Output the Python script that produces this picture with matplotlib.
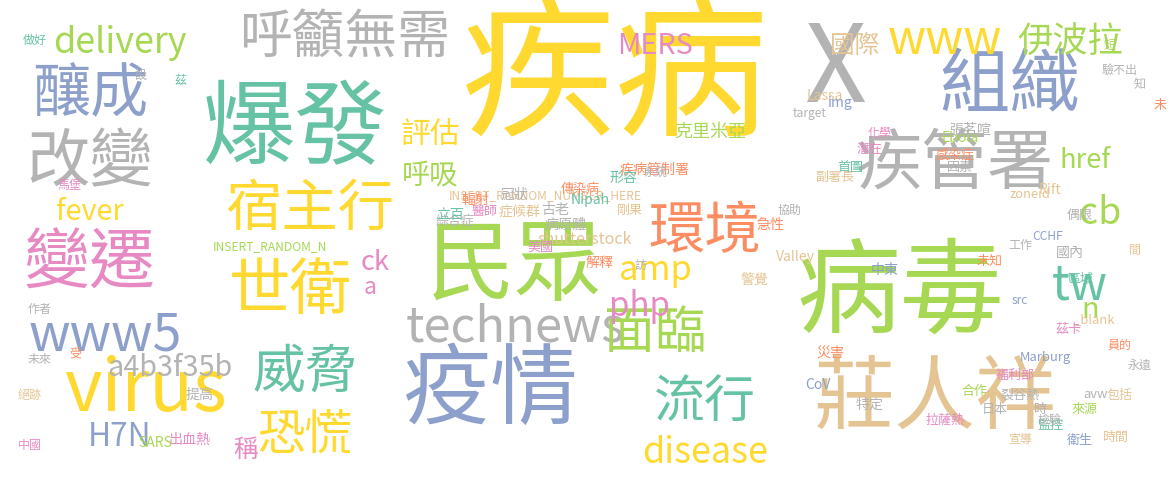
import matplotlib.pyplot as plt

plt.rcParams['font.family'] = ['Noto Sans CJK TC', 'DejaVu Sans']

# Set2 palette
Y, G, B, T, O, P, N, R = ('#ffd92f', '#a6d854', '#8da0cb', '#66c2a5',
                          '#fc8d62', '#e78ac3', '#e5c494', '#b3b3b3')

words = ['疾病', '病毒', '民眾', '疫情', '爆發', '莊人祥', 'X', '組織', '疾管署', '改變',
         '釀成', '變遷', 'virus', 'www5', '呼籲無需', '宿主行', '世衛', '環境', 'technews',
         '面臨', '威脅', '恐慌', '流行', 'delivery', 'MERS', 'www', '伊波拉', '國際', '評估',
         '呼吸', 'fever', 'amp', 'cb', 'href', 'php', 'tw', 'n', 'ck', 'a', 'a4b3f35b',
         'H7N', '稱', 'disease',
         'INSERT_RANDOM_NUMBER_HERE', 'shutterstock', 'INSERT_RANDOM_N', '克里米亞',
         '疾病管制署', '綜合症', 'Nipah', '形容', '副署長', 'zoneid', 'target', '醫師', '美國',
         '立百', '輻射', '冠狀', '症候群', '古老', '病原體', '剛果', '解釋', 'Lassa', 'img',
         'Ebola', '因素', '張茗喧', '首圖', '感染症', '工作', 'Rift', 'Valley', '中東', '警覺',
         '傳染病', '急性', '未知', '系統', '訪', '協助', '化學', '潛在', '偶限', '國內',
         'CCHF', '區域', 'avw', '_blank', '茲卡', 'Marburg', 'CoV', '福利部', '災害',
         '裂谷熱', '監控', '特定', '合作', '時間', '包括', '來源', '衛生', '檢驗', '未',
         '時', '宣導', '日本', '拉薩熱', '出血熱', 'SARS', '提高', '中國', '絕跡', '作者',
         '未來', '受', '馬堡', '茲', '設', '做好', '短', '驗不出', '知', '間', '員的', '永遠',
         'src']
sizes = [175, 118, 100, 100, 105, 92, 150, 80, 75, 72,
         66, 75, 100, 72, 60, 64, 70, 64, 68,
         58, 60, 54, 58, 50, 40, 66, 40, 28, 34,
         32, 40, 48, 52, 38, 46, 66, 40, 38, 32, 40,
         44, 28, 50,
         12, 16, 12, 18,
         14, 13, 14, 14, 13, 13, 12, 13, 13,
         14, 14, 14, 14, 14, 14, 13, 14, 14, 14,
         14, 13, 14, 13, 13, 12, 14, 14, 14, 14, 13,
         14, 13, 12, 12, 12, 12, 13, 13, 14, 12,
         13, 13, 13, 13, 13, 14, 13, 14, 13,
         13, 14, 13, 13, 13, 13, 13, 12, 13, 13,
         12, 13, 13, 14, 14, 14, 12, 12, 12, 12,
         12, 12, 12, 12, 12, 12, 12, 12, 12, 12,
         12, 12]
colors = [Y, G, G, B, T, N, R, B, R, R,
          B, P, Y, B, R, Y, Y, O, R,
          G, T, Y, T, G, P, Y, G, N, Y,
          G, Y, Y, G, G, P, T, G, P, P, R,
          B, P, Y,
          N, N, G, G,
          O, R, T, T, N, N, R, P, P,
          T, O, R, N, R, R, N, O, N, B,
          G, R, R, T, O, R, N, N, B, N,
          O, O, O, R, R, R, P, P, R, R,
          B, T, R, N, P, B, B, P, O,
          R, T, R, G, N, N, G, B, R, O,
          R, N, R, P, P, G, R, P, N, R,
          R, O, P, T, R, T, G, R, R, N, O, R,
          B]
xy = [(615, 80), (900, 295), (515, 268), (490, 392), (295, 130), (935, 400), (835, 72),
      (1010, 88), (955, 165), (90, 163), (90, 95), (90, 265), (145, 390), (105, 336),
      (345, 38), (310, 210), (290, 292), (705, 232), (515, 328), (655, 333), (305, 372),
      (305, 435), (705, 402), (120, 43), (655, 46), (945, 40), (1070, 42), (855, 46),
      (430, 135), (430, 175), (90, 212), (655, 270), (1100, 213), (1085, 160), (640, 306),
      (1080, 286), (1090, 310), (375, 262), (370, 288), (170, 368), (120, 437), (245, 450),
      (705, 453),
      (545, 196), (585, 240), (270, 247), (710, 132),
      (655, 170), (455, 221), (590, 200), (623, 178), (835, 177), (1030, 195),
      (810, 113), (485, 211), (540, 248), (450, 215), (475, 200), (515, 195), (520, 212),
      (555, 210), (565, 225), (630, 210), (600, 263),
      (825, 96), (840, 103), (960, 138), (960, 168), (970, 130), (850, 168),
      (955, 155), (1020, 245), (1050, 190), (795, 257), (885, 270), (755, 280),
      (580, 190), (770, 225), (990, 262), (655, 172), (640, 265),
      (790, 210), (880, 133), (870, 150), (1080, 215), (1070, 253), (1048, 237),
      (1080, 280), (1095, 395), (1095, 320), (1068, 330), (1045, 358),
      (818, 385), (1015, 375), (830, 353), (1020, 395), (1050, 425), (870, 405),
      (975, 392), (1115, 438), (1120, 395), (1085, 410), (1080, 440), (1050, 420),
      (1160, 105), (1040, 410), (1020, 440), (995, 410), (945, 420),
      (190, 440), (155, 443), (200, 395), (30, 445), (30, 395), (40, 310),
      (40, 360), (75, 355), (70, 185), (180, 80), (140, 75), (35, 40),
      (1110, 45), (1120, 70), (1140, 85), (1135, 250), (1120, 345), (1140, 365),
      (1020, 300), (1100, 300), (1160, 88), (760, 145),
      (1080, 95), (870, 132)]

fig = plt.figure(figsize=(11.75, 4.82), dpi=100)
ax = fig.add_axes([0, 0, 1, 1])
ax.set_xlim(0, 1175)
ax.set_ylim(482, 0)
ax.axis('off')

for w, s, c, (x, y) in zip(words, sizes, colors, xy):
    if s > 20:
        s = s * (0.72 if w.isascii() else 0.88)
    ax.text(x, y, w, fontsize=s * 0.72, color=c, ha='center', va='center',
            fontweight='medium' if s > 20 else 'normal')

fig.savefig('out.png', dpi=100, facecolor='white')
